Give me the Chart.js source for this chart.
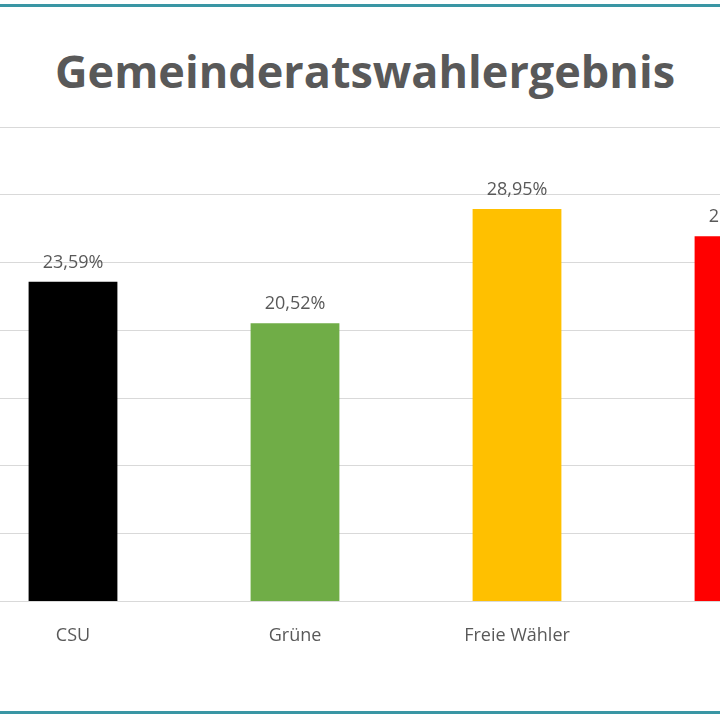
<!DOCTYPE html>
<html><head><meta charset="utf-8">
<script src="https://cdn.jsdelivr.net/npm/chart.js@4"></script>
<style>
html,body{margin:0;padding:0;width:720px;height:720px;overflow:hidden;background:#fff;font-family:"Open Sans",sans-serif}
#frame{position:absolute;left:-10px;top:4px;width:750px;height:704px;border:3px solid #3a96a4;border-radius:6px}
#title{position:absolute;left:0;width:730px;top:40px;text-align:center;font-size:45px;font-weight:bold;color:#595959}
#wrap{position:absolute;left:-38px;top:117px;width:888px;height:560px}
</style></head><body>
<div id="frame"></div>
<div id="title">Gemeinderatswahlergebnis</div>
<div id="wrap"><canvas id="c"></canvas></div>
<script>
const categories=["CSU","Grüne","Freie Wähler","SPD"];
const values=[23.59,20.52,28.95,26.94];
const colors=["#000000","#70AD47","#FFC000","#FF0000"];
const labelPlugin={id:'lbl',afterDatasetsDraw(ch){const ctx=ch.ctx;const m=ch.getDatasetMeta(0);ctx.save();ctx.font='18px "Open Sans"';ctx.fillStyle='#595959';ctx.textAlign='center';ctx.textBaseline='bottom';
m.data.forEach((b,i)=>{ctx.fillText(values[i].toFixed(2).replace('.',',')+'%',b.x,b.y-10);});ctx.restore();}};
new Chart(document.getElementById('c'),{type:'bar',
data:{labels:categories,datasets:[{data:values,backgroundColor:colors,barPercentage:0.8,categoryPercentage:0.5}]},
options:{responsive:true,maintainAspectRatio:false,animation:false,
layout:{padding:{top:10,bottom:14}},
plugins:{legend:{display:false},tooltip:{enabled:false},title:{display:false}},
scales:{x:{grid:{display:false},border:{color:'#d9d9d9'},ticks:{color:'#595959',font:{size:18,family:'Open Sans'},padding:16}},
y:{min:0,max:35,ticks:{display:false,stepSize:5},grid:{color:'#d9d9d9',drawTicks:false},border:{display:false}}}},
plugins:[labelPlugin]});
</script></body></html>
